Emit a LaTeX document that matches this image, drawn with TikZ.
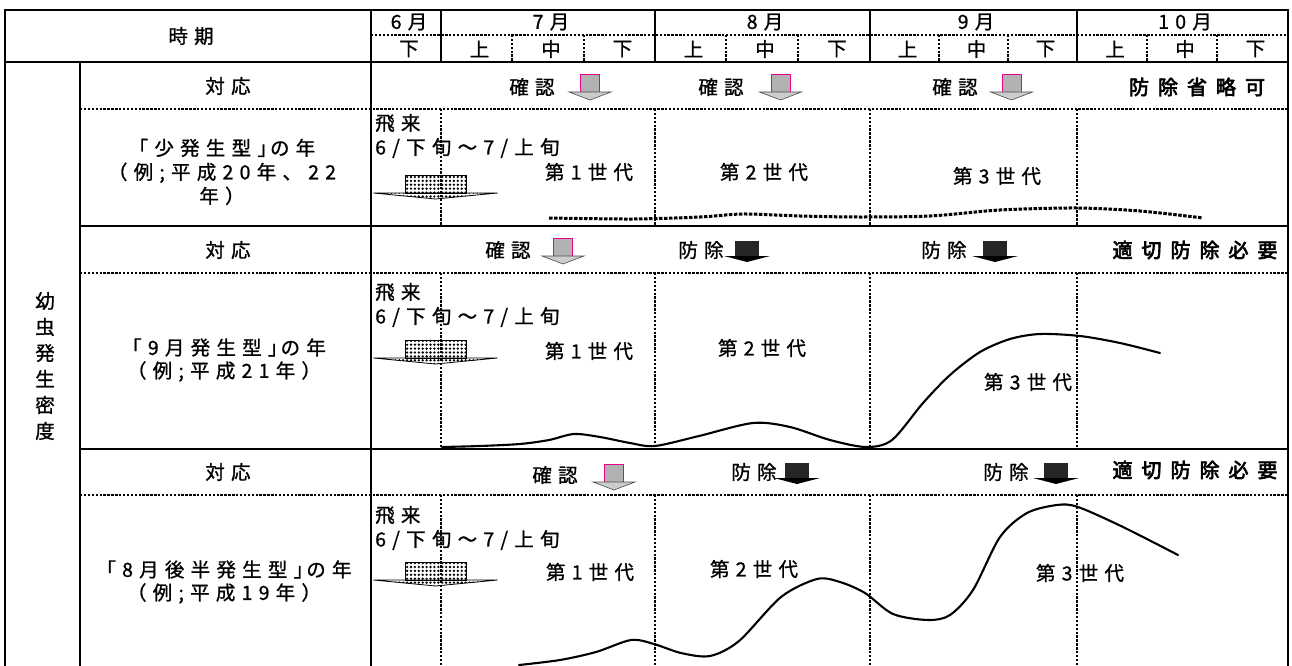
\documentclass[tikz,border=0pt]{standalone}
\usepackage{fontspec}
\usetikzlibrary{patterns}
\newfontfamily\jp[LetterSpace=32,FakeBold=1]{Noto Sans CJK JP}
\newfontfamily\jpb[LetterSpace=45,FakeBold=3.2]{Noto Sans CJK JP}
\pgfdeclarepatternformonly{bigdots}{\pgfqpoint{-1pt}{-1pt}}{\pgfqpoint{4pt}{4pt}}{\pgfqpoint{3.9pt}{3.9pt}}{\pgfpathcircle{\pgfqpoint{1.5pt}{1.5pt}}{1.3pt}\pgfusepath{fill}}
\newcommand{\rb}{」\kern-0.35em}
\begin{document}
\begin{tikzpicture}[x=1pt,y=-1pt,
  tl/.style={line width=2.3pt, line cap=rect},
  dl/.style={line width=1.4pt, dash pattern=on 2.4pt off 1.5pt},
  txt/.style={font=\jp\fontsize{19.5pt}{22pt}\selectfont, inner sep=0pt, text=black},
  btxt/.style={font=\jpb\fontsize{20pt}{22pt}\selectfont, inner sep=0pt, text=black},
  lbl/.style={txt, align=center},
  curve/.style={line width=2.1pt, line join=round, line cap=round},
  dcurve/.style={line width=3pt, dash pattern=on 3.5pt off 1.5pt},
  chkarrow/.pic={
    \fill[gray!60] (-9.5,0) rectangle (9.5,18);
    \draw[magenta, line width=0.9pt] (-9.5,0) rectangle (9.5,18);
    \filldraw[fill=gray!40, draw=gray!60!black, line width=0.6pt] (-21,18) -- (21,18) -- (0,26) -- cycle;
  },
  prevarrow/.pic={
    \fill[black!85] (-12,0) rectangle (12,15);
    \fill[black] (-23,15) -- (23,15) -- (0,21) -- cycle;
  },
  flyarrow/.pic={
    \draw[line width=0.6pt, pattern=bigdots, pattern color=black] (-30.5,0) rectangle (30.5,18);
    \draw[line width=0.8pt, pattern=bigdots, pattern color=black] (-62,18) -- (62,18) -- (0,24) -- cycle;
  },
]
\useasboundingbox (0,0) rectangle (1292,666);

% ---- arrows (drawn first, grid lines over them)
\pic at (435.5,175) {flyarrow};
\pic at (435.5,340) {flyarrow};
\pic at (435.5,562) {flyarrow};

\pic at (590,74) {chkarrow};
\pic at (780.5,74) {chkarrow};
\pic at (1011.5,74) {chkarrow};
\pic at (563,238) {chkarrow};
\pic at (614,464) {chkarrow};

\pic at (747,241) {prevarrow};
\pic at (995,241) {prevarrow};
\pic at (797,463) {prevarrow};
\pic at (1056,463) {prevarrow};

% ---- grid
\draw[tl] (5,10) -- (1288,10);
\draw[tl] (5,62) -- (1288,62);
\draw[tl] (5,10) -- (5,666);
\draw[tl] (1288,10) -- (1288,666);
\draw[tl] (371,10) -- (371,666);
\draw[tl] (80,62) -- (80,666);
\foreach \x in {441,655,870,1077} \draw[tl] (\x,10) -- (\x,62);
\draw[dl] (371,35) -- (1288,35);
\foreach \x in {512,584,726,798,939,1008,1147,1217} \draw[dl] (\x,35) -- (\x,62);
\draw[tl] (80,226) -- (1288,226);
\draw[tl] (80,449) -- (1288,449);
\foreach \y in {109,273,495} \draw[dl] (80,\y) -- (1288,\y);
\foreach \x in {441,655,870,1077} {
  \draw[dl] (\x,109) -- (\x,226);
  \draw[dl] (\x,273) -- (\x,449);
  \draw[dl] (\x,495) -- (\x,666);
}

% ---- curves
\draw[dcurve] plot[smooth, tension=0.5] coordinates {(549,218) (633,219) (700,217) (743,214) (800,216) (860,217) (930,216) (1000,210) (1077,208) (1140,211) (1203,218)};
\draw[curve] plot[smooth, tension=0.5] coordinates {(442,447) (480,446) (520,444) (549,440) (574,434) (600,437) (630,443) (655,446) (699,436) (753,423) (790,427) (830,440) (866,447) (892,440) (923,403) (950,375) (980,352) (1010,339) (1040,334) (1080,336) (1120,343) (1160,353)};
\draw[curve] plot[smooth, tension=0.5] coordinates {(519,665) (560,660) (596,652) (631,640) (654,644) (681,653) (710,656) (739,641) (781,597) (817,579) (840,582) (865,593) (893,614) (928,620) (950,615) (973,590) (1000,537) (1027,513) (1057,505) (1078,507) (1123,527) (1178,555)};

% ---- header text
\node[txt] (jiki) at (191,36) {時期};
\node[txt] (m6) at (409,22) {6月};
\node[txt] (m7) at (551,22) {7月};
\node[txt] (m8) at (765,22) {8月};
\node[txt] (m9) at (976,22) {9月};
\node[txt] (m10) at (1185,22) {10月};
\foreach \x/\t [count=\i] in {406/下,476.5/上,548/中,619.5/下,690.5/上,762/中,834/下,904.5/上,973.5/中,1042.5/下,1112/上,1182/中,1252.5/下}
  \node[txt] (d\i) at (\x+3,49) {\t};

% ---- left labels
\node[txt, align=center, font=\jp\fontsize{19.5pt}{26pt}\selectfont] (density) at (45,366) {幼\\虫\\発\\生\\密\\度};
\node[txt] (t1) at (228,86) {対応};
\node[txt] (t2) at (228,250) {対応};
\node[txt] (t3) at (228,472) {対応};
\node[lbl, font=\jp\fontsize{19.5pt}{24pt}\selectfont] (y1) at (222,172) {「少発生型\rb の年\\（例;平成20年、22\\年）};
\node[lbl, font=\jp\fontsize{19.5pt}{23pt}\selectfont] (y2) at (224,360) {「9月発生型\rb の年\\（例;平成21年）};
\node[lbl, font=\jp\fontsize{19.5pt}{23pt}\selectfont] (y3) at (224,582) {「8月後半発生型\rb の年\\（例;平成19年）};

% ---- response rows
\node[txt] (k11) at (532,87) {確認};
\node[txt] (k12) at (721,87) {確認};
\node[txt] (k13) at (955,87) {確認};
\node[btxt] (r1) at (1197,87) {防除省略可};
\node[txt] (k21) at (508,250) {確認};
\node[txt] (b21) at (701,250) {防除};
\node[txt] (b22) at (944,250) {防除};
\node[btxt] (r2) at (1195,250) {適切防除必要};
\node[txt] (k31) at (555,475) {確認};
\node[txt] (b31) at (754,472) {防除};
\node[txt] (b32) at (1006,472) {防除};
\node[btxt] (r3) at (1195,470) {適切防除必要};

% ---- data rows
\foreach \r/\a/\b in {1/123/148, 2/292/317, 3/515/540} {
  \node[txt, anchor=west] (fa\r) at (375,\a) {飛来};
  \node[txt, anchor=west] (fb\r) at (375,\b) {6/下旬～7/上旬};
}
\node[txt] (g11) at (589,172) {第1世代};
\node[txt] (g12) at (764,172) {第2世代};
\node[txt] (g13) at (997,176) {第3世代};
\node[txt] (g21) at (589,351) {第1世代};
\node[txt] (g22) at (762,348) {第2世代};
\node[txt] (g23) at (1028,382) {第3世代};
\node[txt] (g31) at (590,572) {第1世代};
\node[txt] (g32) at (754,569) {第2世代};
\node[txt] (g33) at (1080,573) {第3世代};
\end{tikzpicture}
\end{document}
